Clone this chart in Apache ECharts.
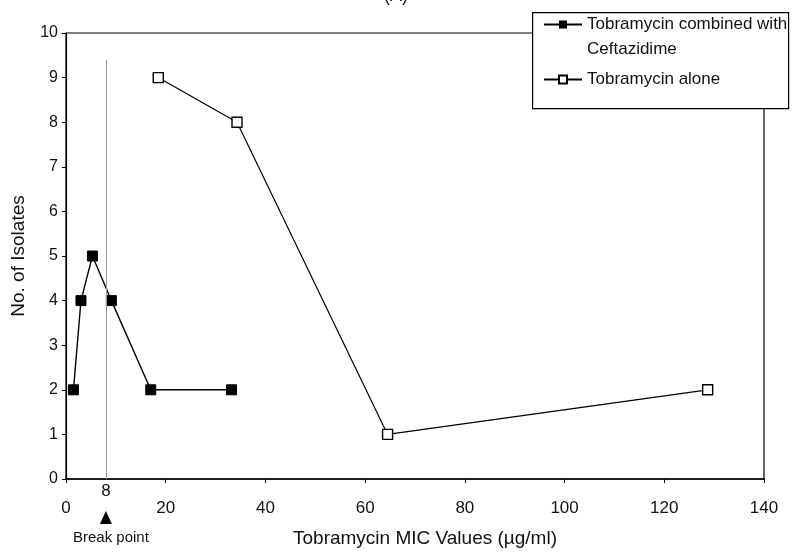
<!DOCTYPE html>
<html>
<head>
<meta charset="utf-8">
<script src="https://cdn.jsdelivr.net/npm/echarts@6/dist/echarts.min.js"></script>
<style>html,body{margin:0;padding:0;background:#fff}#c{width:792px;height:553px}</style>
</head>
<body>
<div id="c"></div>
<script>
// Data
var combinedX = [1.5, 3, 5.3, 9.1, 17, 33.2];
var combinedY = [2, 4, 5, 4, 2, 2];
var aloneX = [18.5, 34.3, 64.5, 128.7];
var aloneY = [9, 8, 1, 2];
var breakPoint = 8;
var breakTop = 9.4;
var xTicks = [0, 20, 40, 60, 80, 100, 120, 140];
var yTicks = [0, 1, 2, 3, 4, 5, 6, 7, 8, 9, 10];
var seriesNames = ['Tobramycin combined with Ceftazidime', 'Tobramycin alone'];

function pairs(xs, ys) { return xs.map(function (x, i) { return [x, ys[i]]; }); }

var font = 'Liberation Sans, Arial, sans-serif';
var chart = echarts.init(document.getElementById('c'), null, { renderer: 'canvas' });

var option = {
  animation: false,
  backgroundColor: '#fff',
  grid: { left: 66, right: 28, top: 33, bottom: 74, show: true, borderColor: '#000', borderWidth: 1.2, backgroundColor: 'transparent' },
  xAxis: {
    type: 'value', min: xTicks[0], max: xTicks[xTicks.length - 1], interval: 20,
    name: 'Tobramycin MIC Values (\u00b5g/ml)', nameLocation: 'middle', nameGap: 50,
    nameTextStyle: { fontFamily: font, fontSize: 19, color: '#111', padding: [0, 0, 0, 20] },
    axisLine: { lineStyle: { color: '#000', width: 1.5 } },
    axisTick: { show: true, length: 4, lineStyle: { color: '#000' } },
    axisLabel: { fontFamily: font, fontSize: 17, color: '#111', margin: 21 },
    splitLine: { show: false }
  },
  yAxis: {
    type: 'value', min: yTicks[0], max: yTicks[yTicks.length - 1], interval: 1,
    name: 'No. of Isolates', nameLocation: 'middle', nameGap: 38,
    nameTextStyle: { fontFamily: font, fontSize: 19, color: '#111' },
    axisLine: { lineStyle: { color: '#000', width: 1.2 } },
    axisTick: { show: true, length: 4, lineStyle: { color: '#000' } },
    axisLabel: { fontFamily: font, fontSize: 16, color: '#111', margin: 8 },
    splitLine: { show: false }
  },
  legend: {
    orient: 'vertical', left: 538, top: -18, itemWidth: 38, itemHeight: 10, itemGap: 5,
    data: seriesNames,
    formatter: function (n) { return n === seriesNames[0] ? ' \nTobramycin combined with\nCeftazidime' : n; },
    textStyle: { fontFamily: font, fontSize: 17, color: '#111', lineHeight: 25 }
  },
  series: [
    {
      name: seriesNames[0], type: 'line', data: pairs(combinedX, combinedY),
      symbol: 'rect', symbolSize: 10,
      lineStyle: { color: '#000', width: 1.4 },
      itemStyle: { color: '#000', borderColor: '#000' },
      markLine: {
        silent: true, symbol: 'none', label: { show: false },
        lineStyle: { color: '#9a9a9a', width: 1, type: 'solid' },
        data: [[{ coord: [breakPoint, breakTop] }, { coord: [breakPoint, 0] }]]
      }
    },
    {
      name: seriesNames[1], type: 'line', data: pairs(aloneX, aloneY),
      symbol: 'rect', symbolSize: 10,
      lineStyle: { color: '#000', width: 1.2 },
      itemStyle: { color: '#fff', borderColor: '#000', borderWidth: 1.4 }
    }
  ]
};
chart.setOption(option);

var p = chart.convertToPixel({ gridIndex: 0 }, [breakPoint, 0]);
chart.setOption({
  graphic: [
    { type: 'rect', left: 532, top: 12, z: 0, shape: { width: 256, height: 96 }, style: { fill: '#fff', stroke: '#000', lineWidth: 1.2 } },
    { type: 'text', left: 'center', top: -13, style: { text: '(A)', font: '18px ' + font, fill: '#222' } },
    { type: 'text', x: p[0], y: p[1] + 12, style: { text: String(breakPoint), font: '17px ' + font, fill: '#111', align: 'center', verticalAlign: 'middle' } },
    { type: 'polygon', shape: { points: [[p[0], p[1] + 32], [p[0] - 6, p[1] + 45], [p[0] + 6, p[1] + 45]] }, style: { fill: '#000' } },
    { type: 'text', x: p[0] + 5, y: p[1] + 59, style: { text: 'Break point', font: '15px ' + font, fill: '#111', align: 'center', verticalAlign: 'middle' } }
  ]
});
</script>
</body>
</html>
